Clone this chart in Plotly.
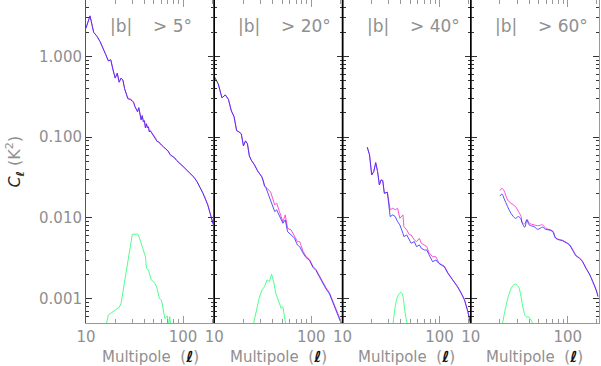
import math
import plotly.graph_objects as go

# ---------------- data (multipole ell, C_ell in K^2) ----------------
panel_labels = ["> 5°", "> 20°", "> 40°", "> 60°"]

ell_5 = [10, 11, 12, 13, 14, 15, 16, 17, 18, 19, 20, 21, 22, 23, 24, 25, 26, 27, 28, 29,
         30, 31, 32, 33, 34, 35, 36, 37, 38, 39, 40, 41, 42, 43, 44, 45, 46, 48, 50, 52,
         54, 56, 58, 60, 63, 66, 70, 74, 78, 82, 86, 90, 95, 100, 110, 120, 130, 140, 150,
         160, 170, 180, 190, 200, 210]
blue_5 = [2.24, 3.18, 1.99, 1.77, 1.52, 1.28, 1.05, 0.88, 0.91, 0.68,
          0.54, 0.62, 0.48, 0.54, 0.51, 0.40, 0.344, 0.298, 0.294, 0.290,
          0.278, 0.266, 0.238, 0.218, 0.206, 0.231, 0.184, 0.164, 0.184, 0.155,
          0.159, 0.130, 0.146, 0.130, 0.134, 0.116, 0.120, 0.110, 0.101, 0.0953,
          0.0887, 0.0876, 0.0826, 0.0803, 0.0758, 0.0716, 0.0676, 0.0604, 0.0578, 0.0554,
          0.0515, 0.0494, 0.0460, 0.0435, 0.0388, 0.0356, 0.0318, 0.0279, 0.0242, 0.0204,
          0.0172, 0.0145, 0.0115, 0.0092, 0.0075]
pink_5 = [2.24, 3.18, 1.99, 1.77, 1.52, 1.28, 1.05, 0.88, 0.91, 0.68,
          0.54, 0.62, 0.48, 0.54, 0.51, 0.40, 0.344, 0.305, 0.300, 0.296,
          0.285, 0.272, 0.240, 0.220, 0.208, 0.233, 0.186, 0.166, 0.186, 0.157,
          0.161, 0.131, 0.147, 0.131, 0.135, 0.117, 0.121, 0.113, 0.104, 0.098,
          0.0890, 0.0878, 0.0828, 0.0805, 0.0760, 0.0718, 0.0678, 0.0606, 0.0580, 0.0555,
          0.0516, 0.0495, 0.0461, 0.0436, 0.0389, 0.0357, 0.0319, 0.0280, 0.0243, 0.0205,
          0.0173, 0.0146, 0.0116, 0.0093, 0.0076]
g_ell_5 = [16, 17, 20, 22, 23, 25, 27, 29, 30, 34, 35, 38, 41, 42, 44, 47, 51, 54, 57, 60,
           63, 65, 69, 71, 73, 75]
green_5 = [0.00045, 0.00063, 0.00072, 0.00078, 0.00088, 0.00155, 0.00287, 0.00486, 0.00628, 0.0063,
           0.00598, 0.00441, 0.00331, 0.00238, 0.00227, 0.00171, 0.00158, 0.00135, 0.00101, 0.00096,
           0.00069, 0.00057, 0.00061, 0.00045, 0.0006, 0.00045]

ell_20 = [10, 11, 12, 13, 14, 15, 16, 17, 18, 19, 20, 21, 22, 23, 24, 25, 26, 28, 29, 30,
          31, 32, 33, 34, 38, 42, 44, 47, 51, 54, 57, 62, 67, 72, 76, 82, 88, 96, 104, 112,
          122, 132, 142, 154, 167, 181, 196, 204]
blue_20 = [0.564, 0.457, 0.307, 0.334, 0.294, 0.212, 0.180, 0.1208, 0.1163, 0.1099,
           0.0780, 0.0900, 0.0826, 0.0587, 0.0523, 0.0494, 0.0454, 0.0382, 0.0361, 0.0351,
           0.0322, 0.0287, 0.0249, 0.0239, 0.0167, 0.0120, 0.0126, 0.0104, 0.0086, 0.00945,
           0.00677, 0.00616, 0.00565, 0.00463, 0.00441, 0.0037, 0.00325, 0.00298, 0.00245, 0.00223,
           0.00184, 0.00152, 0.00132, 0.00115, 0.00090, 0.00074, 0.00056, 0.00049]
pink_20 = [0.564, 0.457, 0.307, 0.334, 0.294, 0.212, 0.180, 0.1208, 0.1163, 0.1099,
           0.0780, 0.0900, 0.0826, 0.0587, 0.0523, 0.0494, 0.0454, 0.0382, 0.0361, 0.0351,
           0.0322, 0.0287, 0.0249, 0.0239, 0.0212, 0.0145, 0.0153, 0.0120, 0.0090, 0.0109,
           0.00746, 0.0071, 0.00598, 0.00509, 0.00509, 0.0039, 0.00335, 0.00305, 0.00252, 0.0023,
           0.0019, 0.00157, 0.00137, 0.00119, 0.00093, 0.00077, 0.00058, 0.0005]
g_ell_20 = [25, 27, 29, 31, 33, 35, 37, 39, 41, 43, 46, 49, 51, 53, 55]
green_20 = [0.00045, 0.00069, 0.00101, 0.00128, 0.00141, 0.00171, 0.00162, 0.00201, 0.00162, 0.00117,
            0.00096, 0.00076, 0.0008, 0.0006, 0.00045]

ell_40 = [18, 19, 20, 21, 22, 23, 24, 25, 26, 27, 29, 30, 31, 33, 35, 37, 39, 42, 43, 46,
          49, 51, 55, 58, 62, 65, 70, 74, 78, 85, 92, 98, 104, 112, 122, 132, 142, 154, 167,
          181, 196, 208]
blue_40 = [0.0752, 0.0604, 0.0341, 0.0375, 0.0484, 0.0375, 0.0256, 0.0296, 0.0290, 0.0202,
           0.0208, 0.0152, 0.0104, 0.0109, 0.0104, 0.0090, 0.0082, 0.00646, 0.00587, 0.00616,
           0.00534, 0.00486, 0.00509, 0.00441, 0.00463, 0.00421, 0.00401, 0.00401, 0.0035, 0.00287,
           0.00302, 0.00275, 0.00262, 0.00249, 0.00206, 0.00179, 0.00162, 0.00141, 0.00117, 0.00096,
           0.00069, 0.000496]
pink_40 = [0.0752, 0.0604, 0.0341, 0.0375, 0.0484, 0.0375, 0.0256, 0.0296, 0.0290, 0.0202,
           0.0208, 0.0152, 0.0126, 0.0132, 0.0126, 0.0132, 0.0099, 0.0109, 0.0078, 0.0071,
           0.00616, 0.00616, 0.00534, 0.00509, 0.0056, 0.00486, 0.00463, 0.00441, 0.0037, 0.00331,
           0.00331, 0.0028, 0.00266, 0.00253, 0.0021, 0.00182, 0.00165, 0.00143, 0.00119, 0.00098,
           0.0007, 0.0005]
g_ell_40 = [33, 35, 37, 40, 42, 44, 47]
green_40 = [0.00045, 0.0008, 0.00106, 0.0012, 0.00106, 0.00069, 0.00045]

ell_60 = [20, 21, 22, 24, 26, 29, 31, 33, 34, 36, 38, 40, 45, 49, 55, 59, 64, 70, 75, 82,
          88, 96, 104, 112, 122, 132, 142, 154, 167, 181, 196, 205]
blue_60 = [0.0187, 0.0198, 0.0175, 0.0138, 0.0114, 0.0099, 0.0104, 0.00964, 0.0086, 0.00767,
           0.00945, 0.0082, 0.0078, 0.00724, 0.00767, 0.00724, 0.0071, 0.00677, 0.0056, 0.00534,
           0.00523, 0.00494, 0.00463, 0.00401, 0.00338, 0.00317, 0.00287, 0.00238, 0.00202, 0.00162,
           0.00128, 0.00106]
pink_60 = [0.0218, 0.0233, 0.0218, 0.0167, 0.0152, 0.0138, 0.0120, 0.0105, 0.0086, 0.00843,
           0.00964, 0.0086, 0.0082, 0.0080, 0.0082, 0.00746, 0.0072, 0.0069, 0.0057, 0.0054,
           0.0053, 0.0050, 0.0047, 0.0041, 0.00343, 0.0032, 0.0029, 0.0024, 0.00204, 0.00164,
           0.0013, 0.00107]
g_ell_60 = [21, 23, 25, 27, 29, 31, 33, 35, 37, 40, 42, 45]
green_60 = [0.00045, 0.0008, 0.00117, 0.00144, 0.00151, 0.00141, 0.00106, 0.00072, 0.0006, 0.00059,
            0.00054, 0.00045]

y_tick_vals = [0.001, 0.01, 0.1, 1.0]
y_tick_text = ["0.001", "0.010", "0.100", "1.000"]
x_tick_vals = [10, 100]
x_tick_text = ["10", "100"]

# ---------------- styling ----------------
BLUE = "rgb(40,40,255)"
PINK = "rgb(255,80,210)"
GREEN = "rgb(80,255,140)"
GRAY = "#8f8f8f"
FONT = "DejaVu Sans"

panels = [
    (ell_5, blue_5, pink_5, g_ell_5, green_5, "linear"),
    (ell_20, blue_20, pink_20, g_ell_20, green_20, "linear"),
    (ell_40, blue_40, pink_40, g_ell_40, green_40, "linear"),
    (ell_60, blue_60, pink_60, g_ell_60, green_60, "spline"),
]

fig = go.Figure()
for i, (ell, blue, pink, gell, green, shape) in enumerate(panels):
    xa = "x" if i == 0 else f"x{i+1}"
    ya = "y" if i == 0 else f"y{i+1}"
    fig.add_trace(go.Scatter(x=ell, y=pink, mode="lines", xaxis=xa, yaxis=ya,
                             line=dict(color=PINK, width=1, shape=shape), showlegend=False))
    fig.add_trace(go.Scatter(x=ell, y=blue, mode="lines", xaxis=xa, yaxis=ya, opacity=0.8,
                             line=dict(color=BLUE, width=1, shape=shape), showlegend=False))
    fig.add_trace(go.Scatter(x=gell, y=green, mode="lines", xaxis=xa, yaxis=ya,
                             line=dict(color=GREEN, width=1, shape="spline" if i >= 2 else "linear"),
                             showlegend=False))

x_minor = [20, 30, 40, 50, 60, 70, 80, 90, 200]
y_minor = [m * 10.0 ** e for e in range(-4, 1) for m in range(2, 10)]

layout = dict(
    width=601, height=366,
    margin=dict(l=86, r=2, t=0, b=43, autoexpand=False),
    paper_bgcolor="white", plot_bgcolor="white",
    font=dict(family=FONT, color=GRAY, size=14),
    showlegend=False,
)
annotations = []
shapes = []
for i in range(4):
    xk = "xaxis" if i == 0 else f"xaxis{i+1}"
    yk = "yaxis" if i == 0 else f"yaxis{i+1}"
    layout[xk] = dict(
        type="log", range=[1, math.log10(210)], domain=[i / 4, (i + 1) / 4],
        anchor="y" if i == 0 else f"y{i+1}", automargin=False,
        tickmode="array", tickvals=x_tick_vals, ticktext=x_tick_text,
        ticks="inside", ticklen=7, tickcolor="#999", tickwidth=1,
        minor=dict(tickmode="array", tickvals=x_minor, ticks="inside", ticklen=4,
                   tickcolor="#999", tickwidth=1),
        showline=True, linecolor="#999", linewidth=1, mirror="ticks",
        showgrid=False, zeroline=False,
        tickfont=dict(size=15, color=GRAY),
    )
    layout[yk] = dict(
        type="log", range=[math.log10(0.0005), math.log10(5)], domain=[0, 1],
        anchor="x" if i == 0 else f"x{i+1}", automargin=False,
        tickmode="array", tickvals=y_tick_vals, ticktext=y_tick_text,
        showticklabels=(i == 0),
        ticks="inside", ticklen=6, tickcolor="#333", tickwidth=1,
        minor=dict(tickmode="array", tickvals=y_minor, ticks="inside", ticklen=3,
                   tickcolor="#333", tickwidth=1),
        showline=True, linecolor="#555" if i == 0 else "#999", linewidth=1,
        mirror="ticks", showgrid=False, zeroline=False,
        tickfont=dict(size=15, color=GRAY),
    )
    annotations.append(dict(text="|b|", x=i / 4, y=1, xref="paper", yref="paper",
                            xanchor="left", yanchor="middle", xshift=22, yshift=-26,
                            showarrow=False, font=dict(size=17, color=GRAY, family=FONT)))
    annotations.append(dict(text=panel_labels[i], x=i / 4, y=1, xref="paper", yref="paper",
                            xanchor="left", yanchor="middle", xshift=65, yshift=-26,
                            showarrow=False, font=dict(size=17, color=GRAY, family=FONT)))
    annotations.append(dict(text="Multipole  (<b><i><span style='color:#111'>ℓ</span></i></b>)",
                            x=(i + 0.5) / 4, y=0, xref="paper", yref="paper",
                            xanchor="center", yanchor="middle", yshift=-34,
                            showarrow=False, font=dict(size=15, color=GRAY, family=FONT)))
for xd in [0.25, 0.5, 0.75]:
    shapes.append(dict(type="line", xref="paper", yref="paper", x0=xd, x1=xd, y0=0, y1=1,
                       line=dict(color="black", width=1.5), layer="above"))

annotations.append(dict(
    text="<i><span style='color:#222'>C</span></i><sub><b><i><span style='color:#222'>ℓ</span></i></b></sub> (K<sup>2</sup>)",
    x=0, y=0.5, xref="paper", yref="paper", xanchor="center", yanchor="middle",
    xshift=-71, textangle=-90, showarrow=False, font=dict(size=16, color=GRAY, family=FONT)))
layout["annotations"] = annotations
layout["shapes"] = shapes

fig.update_layout(**layout)
fig.write_html("out.html", config={"displayModeBar": False},
               post_script="document.body.style.margin='0';document.body.style.padding='0';")
